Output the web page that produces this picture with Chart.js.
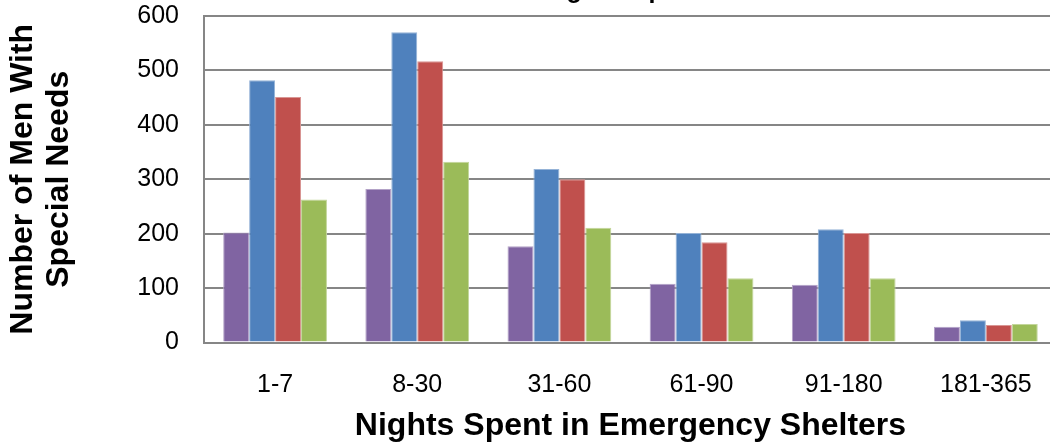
<!DOCTYPE html>
<html>
<head>
<meta charset="utf-8">
<script src="https://cdn.jsdelivr.net/npm/chart.js@4/dist/chart.umd.min.js"></script>
<style>
  html, body { margin: 0; padding: 0; background: #fff; overflow: hidden; }
  #wrap { width: 1050px; height: 447px; overflow: hidden; position: relative; }
  /* canvas is shifted up so the title is cut off like in the reference */
  #chart { position: absolute; left: 0; top: -30px; }
</style>
</head>
<body>
<div id="wrap"><canvas id="chart" width="1060" height="477"></canvas></div>
<script>
// categories and values
const categories = ['1-7', '8-30', '31-60', '61-90', '91-180', '181-365'];
const seriesNames = ['Group 1', 'Group 2', 'Group 3', 'Group 4'];
const purpleValues = [202, 282, 177, 108, 106, 29];
const blueValues = [482, 570, 319, 201, 208, 41];
const redValues = [451, 517, 300, 184, 201, 32];
const greenValues = [263, 332, 211, 118, 118, 34];
const yTicks = [0, 100, 200, 300, 400, 500, 600];

const fills = ['#8064A2', '#4F81BD', '#C0504D', '#9BBB59'];
const edges = ['#B3A2C7', '#95B3D7', '#D99694', '#C3D69B'];
const gridGrey = '#868686';
const font = "'Liberation Sans', Arial, sans-serif";

const values = [purpleValues, blueValues, redValues, greenValues];

const datasets = values.map((v, i) => ({
    label: seriesNames[i],
    data: v,
    backgroundColor: fills[i],
    borderColor: edges[i],
    borderWidth: 1,
    barPercentage: 1,
    categoryPercentage: 0.73
}));

Chart.defaults.font.family = font;
Chart.defaults.color = '#000';

new Chart(document.getElementById('chart').getContext('2d'), {
    type: 'bar',
    data: { labels: categories, datasets: datasets },
    options: {
        responsive: false,
        animation: false,
        devicePixelRatio: 1,
        layout: { padding: 0 },
        plugins: {
            legend: { display: false },
            tooltip: { enabled: false },
            title: {
                display: true,
                text: 'Among Groups of Men',
                fullSize: false,
                font: { size: 25, weight: 'bold' },
                padding: { top: 6, bottom: 10 }
            }
        },
        scales: {
            x: {
                grid: { display: false, drawTicks: false },
                border: { display: true, color: gridGrey, width: 2 },
                ticks: { font: { size: 25 }, padding: 28 },
                title: {
                    display: true,
                    text: 'Nights Spent in Emergency Shelters',
                    font: { size: 32, weight: 'bold' },
                    padding: { top: 0, bottom: 2 }
                },
                afterFit: s => { s.height = 104.5; }
            },
            y: {
                min: 0,
                max: 600,
                afterBuildTicks: s => { s.ticks = yTicks.map(v => ({ value: v })); },
                grid: { color: gridGrey, lineWidth: 2, drawTicks: false },
                border: { display: true, color: gridGrey, width: 2 },
                ticks: { font: { size: 25 }, padding: 25 },
                title: {
                    display: true,
                    text: ['Number of Men With', 'Special Needs'],
                    font: { size: 32, weight: 'bold', lineHeight: 1.1 },
                    padding: { top: 6, bottom: 0 }
                },
                afterFit: s => { s.width = 204; }
            }
        }
    }
});
</script>
</body>
</html>
